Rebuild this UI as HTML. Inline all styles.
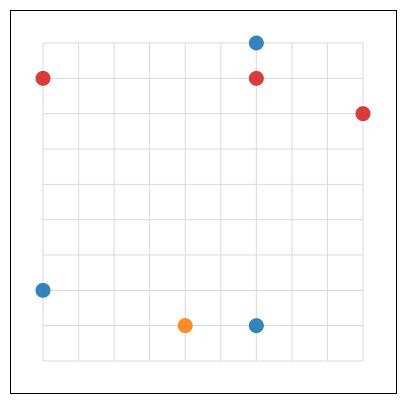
<!DOCTYPE html>
<html><head><meta charset="utf-8"><style>
html,body{margin:0;padding:0;background:#fff;}
svg{display:block;font-family:"Liberation Sans",sans-serif;}
</style></head><body>
<svg id="chart" width="407" height="405">
<rect x="10.5" y="10.5" width="386" height="383" fill="#fff" stroke="#000" stroke-width="1"/>
<g id="grid"></g>
<g id="points"></g>
</svg>
<script>
const xValues = [6, 0, 6, 9, 0, 4, 6];
const yValues = [9, 8, 8, 7, 2, 1, 1];
const seriesColors = ["#1f77b4", "#d62728", "#d62728", "#d62728", "#1f77b4", "#ff7f0e", "#1f77b4"];
const gridTicks = [0,1,2,3,4,5,6,7,8,9];

const x0 = 43, x1 = 363, y0 = 361, y1 = 43;
function sx(v){ return x0 + (x1 - x0) * v / 9; }
function sy(v){ return y0 - (y0 - y1) * v / 9; }
const NS = "http://www.w3.org/2000/svg";
const grid = document.getElementById("grid");
gridTicks.forEach(t => {
  const v = document.createElementNS(NS, "line");
  v.setAttribute("x1", sx(t)); v.setAttribute("x2", sx(t));
  v.setAttribute("y1", y1); v.setAttribute("y2", y0);
  v.setAttribute("stroke", "#d9d9d9"); v.setAttribute("stroke-width", "1");
  
  
  grid.appendChild(v);
  const h = document.createElementNS(NS, "line");
  h.setAttribute("x1", x0); h.setAttribute("x2", x1);
  h.setAttribute("y1", sy(t)); h.setAttribute("y2", sy(t));
  h.setAttribute("stroke", "#d9d9d9"); h.setAttribute("stroke-width", "1");
  
  
  grid.appendChild(h);
});
const pts = document.getElementById("points");
xValues.forEach((xv, i) => {
  const c = document.createElementNS(NS, "circle");
  c.setAttribute("cx", sx(xv)); c.setAttribute("cy", sy(yValues[i]));
  c.setAttribute("r", "7.5"); c.setAttribute("fill", seriesColors[i]);
  c.setAttribute("fill-opacity", "0.9");
  
  
  pts.appendChild(c);
});
</script>
</body></html>
